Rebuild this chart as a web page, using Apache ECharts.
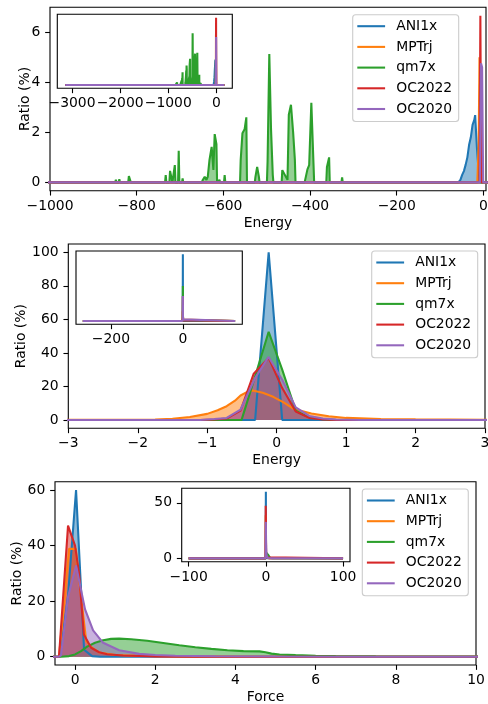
<!DOCTYPE html>
<html><head><meta charset="utf-8">
<script src="https://cdn.jsdelivr.net/npm/echarts@6/dist/echarts.min.js"></script>
<style>html,body{margin:0;padding:0;background:#fff}#c{width:488px;height:704px}</style>
</head><body><div id="c"></div>
<script>
const names = ['ANI1x','MPTrj','qm7x','OC2022','OC2020'];
const colors = ['#1f77b4','#ff7f0e','#2ca02c','#d62728','#9467bd'];

// Panel 1: Energy (wide)
const aniE1 = [[-3140,0],[-58,0],[-53,0.1],[-49,0.3],[-45,0.45],[-41,0.7],[-37,1.0],[-33,1.5],[-29,1.8],[-25,2.3],[-21,2.5],[-19,2.69],[-15,1.4],[-11,0.4],[-8,0],[165,0]];
const mptE1 = [[-3140,0],[-14,0],[-11,1.5],[-9,5.0],[-6,2.0],[-3,0.2],[0,0],[165,0]];
const qm7E1 = [[-3140,0],[-849.5,0],[-848,0.1],[-846.5,0],[-841.5,0],[-840,0.13],[-838.5,0],[-819.5,0],[-818,0.25],[-815,0.25],[-813.5,0],
  [-751.5,0],[-750,0.05],[-748.5,0],[-734.5,0],[-733,0.29],[-731.5,0],[-724.5,0],[-723,0.46],[-719,0.46],[-717.5,0],[-713.5,0],[-712,0.69],[-710.5,0],
  [-704.5,0],[-703,1.26],[-701.5,0],[-695.5,0],[-694,0.16],[-692.5,0],
  [-649.5,0],[-648,0.08],[-643,0.22],[-639,0.1],[-636,0.22],[-632,0.9],[-627,1.42],[-623,0.5],[-620,1.93],[-616,1.53],[-614.5,0],[-610.5,0],[-609,0.1],[-607.5,0],
  [-598.5,0],[-597,0.29],[-595.5,0],[-561.5,0],[-560,0.9],[-556,1.96],[-551,2.12],[-547,2.6],[-545.5,0],
  [-527.5,0],[-526,0.22],[-522,0.62],[-518,0.22],[-516.5,0],[-499.5,0],[-498,0.82],[-494,5.13],[-490,2.12],[-486,0.3],[-484.5,0],
  [-465.5,0],[-464,0.49],[-460,0.36],[-456,0.43],[-452,0.1],[-449,2.7],[-444,3.1],[-439,2.0],[-435,0.9],[-433.5,0],
  [-412.5,0],[-411,0.12],[-406,0.52],[-402,0.69],[-397,3.18],[-392,0.73],[-390.5,0],[-362.5,0],[-361,0.62],[-356,1.0],[-354.5,0],
  [-327.5,0],[-326,0.2],[-324.5,0],[165,0]];
const oc22E1 = [[-3140,0],[-9,0],[-7,6.66],[-5,0],[165,0]];
const oc20E1 = [[-3140,0],[-8,0],[-5.5,4.76],[-3,4.6],[-0.5,0],[165,0]];

// Panel 2: Energy (narrow)
const aniE2 = [[-278,0],[-0.505,0],[-0.31,0],[-0.115,100],[0.08,0],[145,0]];
const mptE2 = [[-278,0],[-3.2,0.05],[-2,0.15],[-1.75,0.3],[-1.5,0.7],[-1.25,1.7],[-1.0,3.6],[-0.85,5.8],[-0.72,8.2],[-0.6,11.5],[-0.52,14.6],[-0.43,16.6],[-0.345,17.6],[-0.2,16.2],[-0.05,13.8],[0.1,10.5],[0.25,6.5],[0.5,3.8],[0.75,2.2],[1.0,1.2],[1.5,0.6],[2.0,0.35],[3.0,0.15],[145,0]];
const qm7E2 = [[-278,0],[-0.505,0],[-0.31,26],[-0.115,52.6],[0.08,30],[0.275,5.5],[0.47,1.5],[0.665,0.4],[0.86,0],[145,0]];
const oc22E2 = [[-278,0],[-1.1,0],[-0.9,0.3],[-0.72,0.8],[-0.52,5.5],[-0.33,27.6],[-0.115,37],[0.08,19],[0.275,5],[0.47,1.2],[0.665,0.3],[0.86,0],[145,0]];
const oc20E2 = [[-278,0],[-1.1,0],[-0.9,0.5],[-0.72,1.2],[-0.52,6.2],[-0.31,25],[-0.115,37.6],[0.08,24],[0.275,7.5],[0.47,2.4],[0.665,0.8],[0.86,0.3],[1.2,0],[145,0]];

// Panel 3: Force
const aniF = [[-100,0],[-0.375,0],[-0.175,22],[0.025,60],[0.225,2.5],[0.425,0.2],[0.625,0],[100,0]];
const mptF = [[-100,0],[-0.4,0],[-0.15,38.8],[0.02,38.8],[0.12,25],[0.28,5.5],[0.4,3.5],[0.6,1.5],[1.0,0.6],[1.5,0.3],[2.5,0.1],[4,0],[100,0]];
const qm7F = [[-100,0],[-0.35,0],[-0.15,0.2],[0,0.8],[0.15,2.0],[0.3,3.6],[0.5,5.0],[0.7,5.9],[0.9,6.4],[1.1,6.5],[1.4,6.3],[1.8,5.7],[2.2,4.9],[2.6,4.1],[3.0,3.4],[3.4,2.8],[3.8,2.3],[4.2,2.0],[4.6,1.9],[4.75,1.6],[4.9,1.1],[5.1,0.8],[5.5,0.55],[6.0,0.35],[6.5,0.2],[7.5,0.1],[8.5,0.05],[10,0.02],[100,0]];
const oc22F = [[-100,0],[-0.4,0],[-0.175,47.2],[0.0,40],[0.1,30],[0.22,8],[0.4,3.2],[0.6,1.6],[0.8,0.9],[1.2,0.4],[2,0.1],[3,0],[100,0]];
const oc20F = [[-100,0],[-0.4,0],[-0.35,0.5],[-0.175,21.5],[0.025,32.8],[0.15,24],[0.25,17],[0.45,9.5],[0.7,5],[1.1,2.3],[1.6,1.0],[2.0,0.6],[2.5,0.35],[3.5,0.15],[5,0.05],[7,0],[100,0]];

// Tick labels
const ticks1x = [-1000,-800,-600,-400,-200,0];
const ticks1y = [0,2,4,6];
const ticks1ix = [-3000,-2000,-1000,0];
const ticks2x = [-3,-2,-1,0,1,2,3];
const ticks2y = [0,20,40,60,80,100];
const ticks2ix = [-200,0];
const ticks3x = [0,2,4,6,8,10];
const ticks3y = [0,20,40,60];
const ticks3ix = [-100,0,100];
const ticks3iy = [0,50];

const FONT = 'DejaVu Sans';
const FS = 13.9;
const fmt = v => (v < 0 ? '\u2212' + Math.abs(v) : String(v));

function grid(left, top, width, height, inset) {
  return {left, top, width, height, show: true, borderColor: '#000', borderWidth: 1.1,
    backgroundColor: inset ? '#fff' : 'transparent', containLabel: false, outerBoundsMode: 'none'};
}
function xAx(gi, min, max, ticks, name) {
  return {type: 'value', gridIndex: gi, min, max, name: name || '', nameLocation: 'middle', nameGap: 25.3,
    nameMoveOverlap: false,
    nameTextStyle: {fontFamily: FONT, fontSize: FS, color: '#000'},
    axisLine: {show: false, onZero: false},
    axisTick: {show: true, inside: false, length: 4.86, lineStyle: {color: '#000', width: 1.1}, customValues: ticks},
    axisLabel: {show: true, margin: 8.5, fontFamily: FONT, fontSize: FS, color: '#000', customValues: ticks, formatter: fmt},
    splitLine: {show: false}};
}
function yAx(gi, min, max, ticks, name, gap) {
  const has = ticks && ticks.length;
  return {type: 'value', gridIndex: gi, min, max, name: name || '', nameLocation: 'middle', nameGap: gap || 20, nameRotate: 90,
    nameMoveOverlap: false,
    nameTextStyle: {fontFamily: FONT, fontSize: FS, color: '#000'},
    axisLine: {show: false, onZero: false},
    axisTick: {show: !!has, inside: false, length: 4.86, lineStyle: {color: '#000', width: 1.1}, customValues: ticks || []},
    axisLabel: {show: !!has, margin: 9.7, fontFamily: FONT, fontSize: FS, color: '#000', customValues: ticks || [], formatter: fmt},
    splitLine: {show: false}};
}
function legend(left, top) {
  return {orient: 'vertical', left, top, data: names, icon: 'rect', itemWidth: 27.8, itemHeight: 2.08, itemGap: 6.7,
    padding: [4.5, 6.5, 5.5, 4.6], backgroundColor: 'rgba(255,255,255,0.8)', borderColor: '#cccccc', borderWidth: 1.1,
    borderRadius: 3, selectedMode: false,
    textStyle: {fontFamily: FONT, fontSize: FS, color: '#000', padding: [0, 0, 0, 6.1]}};
}
function ser(i, data, ai) {
  const c = colors[i];
  return {type: 'line', name: names[i], data, xAxisIndex: ai, yAxisIndex: ai, showSymbol: false, symbol: 'none',
    lineStyle: {color: c, width: 2.08}, itemStyle: {color: c}, areaStyle: {color: c, opacity: 0.5},
    emphasis: {disabled: true}, silent: true, z: ai % 2 ? 5 : 2, animation: false, clip: true};
}

const sets = [
  [aniE1, mptE1, qm7E1, oc22E1, oc20E1],
  [aniE1, mptE1, qm7E1, oc22E1, oc20E1],
  [aniE2, mptE2, qm7E2, oc22E2, oc20E2],
  [aniE2, mptE2, qm7E2, oc22E2, oc20E2],
  [aniF, mptF, qm7F, oc22F, oc20F],
  [aniF, mptF, qm7F, oc22F, oc20F]
];
const series = [];
sets.forEach((arr, ai) => arr.forEach((d, i) => series.push(ser(i, d, ai))));

const option = {
  animation: false,
  backgroundColor: '#fff',
  grid: [
    grid(50, 7.3, 436, 183.4, false),
    grid(57.3, 14.3, 175, 74, true),
    grid(68.3, 244, 416.7, 184.3, false),
    grid(76, 251, 166.3, 73.3, true),
    grid(55, 481.7, 421, 183.3, false),
    grid(181.7, 488.3, 168.3, 73.4, true)
  ],
  xAxis: [
    xAx(0, -1000, 6, ticks1x, 'Energy'),
    xAx(1, -3305, 330, ticks1ix),
    xAx(2, -3, 3, ticks2x, 'Energy'),
    xAx(3, -297, 165, ticks2ix),
    xAx(4, -0.5, 10, ticks3x, 'Force'),
    xAx(5, -109, 109, ticks3ix)
  ],
  yAxis: [
    yAx(0, -0.333, 7.0, ticks1y, 'Ratio (%)', 18),
    yAx(1, -0.333, 7.0, null),
    yAx(2, -5, 105, ticks2y, 'Ratio (%)', 39.5),
    yAx(3, -5, 105, null),
    yAx(4, -3, 63, ticks3y, 'Ratio (%)', 30.8),
    yAx(5, -3, 63, ticks3iy)
  ],
  legend: [legend(352.7, 14.7), legend(371.7, 251), legend(362.3, 489)],
  series
};
const chart = echarts.init(document.getElementById('c'), null, {renderer: 'canvas'});
chart.setOption(option);
</script></body></html>
